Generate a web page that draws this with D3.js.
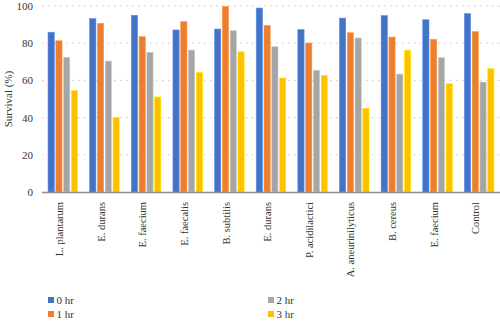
<!DOCTYPE html>
<html><head><meta charset="utf-8">
<script src="https://cdn.jsdelivr.net/npm/d3@7"></script>
<style>body{margin:0;background:#fff}svg{display:block}svg text{font-family:"Liberation Serif","Times New Roman",serif}</style>
</head><body>
<svg id="c" width="500" height="323"></svg>
<script>
const categories = ["L. plantarum","E. durans","E. faecium","E. faecalis","B. subtilis","E. durans","P. acidilactici","A. aneurinilyticus","B. cereus","E. faecium","Control"];
const seriesNames = ["0 hr","1 hr","2 hr","3 hr"];
const hr0 = [85.9,93.2,95.0,87.1,87.6,98.9,87.3,93.5,94.8,92.6,95.9];
const hr1 = [81.3,90.7,83.5,91.6,99.8,89.6,80.1,85.6,83.3,82.1,86.2];
const hr2 = [72.4,70.4,75.1,76.3,86.7,78.1,65.4,82.8,63.4,72.2,59.1];
const hr3 = [54.5,40.1,51.1,64.3,75.4,61.3,62.7,45.0,76.2,58.2,66.3];
const yTicks = [0,20,40,60,80,100];
const colors = ["#4472C4","#ED7D31","#A5A5A5","#FFC000"];
const seriesValues = [hr0,hr1,hr2,hr3];

(function(){
const svg = d3.select("#c");
const mLeft = 42, mRight = 500, mTop = 6, mBottom = 192;
const textColor = "#333333";

const x0 = d3.scaleBand().domain(d3.range(categories.length)).range([mLeft,mRight]).paddingInner(0.29).paddingOuter(0.145);
const x1 = d3.scaleBand().domain(d3.range(seriesNames.length)).range([0,x0.bandwidth()]).paddingInner(0.2);
const y = d3.scaleLinear().domain([0,100]).range([mBottom,mTop]);

// gridlines
svg.append("g").selectAll("line").data(yTicks.filter(t=>t>0)).join("line")
  .attr("x1",mLeft).attr("x2",mRight).attr("y1",d=>y(d)).attr("y2",d=>y(d))
  .attr("stroke","#c8c8c8").attr("stroke-width",1).attr("stroke-dasharray","1.5,4.5");

// y axis labels
const yAxis = d3.axisLeft(y).tickValues(yTicks).tickSize(0).tickPadding(0);
const ya = svg.append("g").attr("transform",`translate(${33},0)`).call(yAxis);
ya.select(".domain").remove();
ya.attr("font-family",null);
ya.selectAll("text").attr("font-size",11).attr("fill",textColor);

// bars
const groups = svg.append("g").selectAll("g").data(categories).join("g")
  .attr("transform",(d,i)=>`translate(${x0(i)},0)`);
groups.selectAll("rect").data((d,i)=>seriesValues.map((s,k)=>({k,v:s[i]}))).join("rect")
  .attr("x",d=>x1(d.k)).attr("width",x1.bandwidth())
  .attr("y",d=>y(d.v)).attr("height",d=>y(0)-y(d.v))
  .attr("fill",d=>colors[d.k])
  .attr("stroke",d=>d3.color(colors[d.k]).brighter(0.6)).attr("stroke-width",0.6);

// x axis line
svg.append("line").attr("x1",mLeft).attr("x2",mRight).attr("y1",y(0)+0.5).attr("y2",y(0)+0.5)
  .attr("stroke","#8c8c8c").attr("stroke-width",1.5);

// x labels
const xAxis = d3.axisBottom(x0).tickSize(0).tickFormat(i=>categories[i]);
const xa = svg.append("g").attr("transform",`translate(-1.5,${y(0)})`).call(xAxis);
xa.select(".domain").remove();
xa.attr("font-family",null);
xa.selectAll("text").attr("font-size",10.5).attr("fill",textColor)
  .attr("transform","rotate(-90)").attr("text-anchor","end").attr("dy","0.35em").attr("dx","-10").attr("y",-2).attr("x",0);

// legend
const legendPos = [[48,297],[48,311],[268,297],[268,311]];
const lg = svg.append("g").selectAll("g").data(seriesNames).join("g")
  .attr("transform",(d,i)=>`translate(${legendPos[i][0]},${legendPos[i][1]})`);
lg.append("rect").attr("width",6).attr("height",6).attr("fill",(d,i)=>colors[i]);
lg.append("text").attr("x",8.5).attr("y",6.5).text(d=>d)
  .attr("font-size",11).attr("fill",textColor);

// y title
svg.append("text").attr("transform",`translate(8,${(mTop+mBottom)/2}) rotate(-90)`)
  .attr("text-anchor","middle").attr("dy","0.35em").text("Survival (%)")
  .attr("font-size",11).attr("fill",textColor);
})();
</script>
</body></html>
